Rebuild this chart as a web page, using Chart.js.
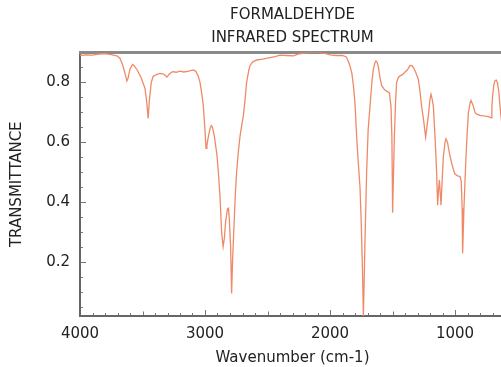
<!DOCTYPE html>
<html><head><meta charset="utf-8">
<script src="https://cdn.jsdelivr.net/npm/chart.js@4"></script>
<style>html,body{margin:0;padding:0;background:#fff;overflow:hidden;}
#wrap{width:505px;height:367px;position:relative;}
</style></head><body><div id="wrap"><canvas id="c" width="505" height="367"></canvas></div>
<script>
const chartTitle = ['FORMALDEHYDE', 'INFRARED SPECTRUM'];
const xTitle = 'Wavenumber (cm-1)';
const yTitle = 'TRANSMITTANCE';
const xTickLabels = [4000, 3000, 2000, 1000];
const yTickLabels = [0.2, 0.4, 0.6, 0.8];

const wavenumbers = [
 4000,3950,3900,3850,3800,3750,3700,3680,3660,3640,3625,3615,3600,3580,3565,3540,3510,3480,3465,3455,3445,3430,3415,3390,3360,3330,3305,3285,3260,3230,3200,3170,3130,3095,3075,3055,3040,3025,3013,3000,2992,2985,2975,2960,2950,2940,2925,2905,2893,2880,2867,2855,2845,2835,2820,2812,2805,2795,2787,2780,2770,2757,2747,2733,2720,2705,2693,2680,2667,2650,2640,2620,2587,2540,2480,2440,2400,2350,2293,2250,2187,2130,2080,2040,2000,1950,1900,1870,1853,1840,1825,1813,1800,1787,1775,1760,1750,1740,1733,1726,1720,1707,1695,1680,1665,1653,1640,1632,1622,1613,1600,1587,1565,1547,1525,1512,1505,1499,1493,1485,1475,1467,1455,1440,1420,1400,1380,1360,1345,1333,1315,1293,1280,1267,1250,1235,1225,1213,1200,1192,1183,1173,1160,1147,1139,1132,1125,1118,1112,1103,1093,1080,1072,1060,1045,1027,1010,1000,980,960,950,943,939,934,928,920,912,900,893,880,872,860,853,840,827,800,770,747,725,712,705,699,690,680,670,661,650,640,625,610
];
const transmittance = [
 0.890,0.892,0.891,0.895,0.896,0.893,0.888,0.880,0.860,0.830,0.805,0.815,0.845,0.860,0.855,0.840,0.815,0.780,0.730,0.680,0.740,0.800,0.820,0.826,0.830,0.828,0.818,0.828,0.836,0.834,0.838,0.835,0.838,0.842,0.838,0.822,0.800,0.760,0.720,0.640,0.580,0.590,0.615,0.645,0.656,0.650,0.620,0.560,0.500,0.420,0.300,0.252,0.280,0.335,0.378,0.380,0.340,0.250,0.095,0.200,0.300,0.430,0.500,0.570,0.620,0.660,0.690,0.740,0.800,0.840,0.856,0.868,0.875,0.878,0.883,0.886,0.891,0.890,0.889,0.895,0.900,0.901,0.900,0.897,0.892,0.890,0.890,0.885,0.870,0.855,0.830,0.790,0.730,0.620,0.540,0.450,0.330,0.170,0.020,0.150,0.274,0.500,0.640,0.720,0.800,0.845,0.866,0.872,0.866,0.852,0.815,0.790,0.776,0.771,0.765,0.720,0.620,0.365,0.480,0.620,0.740,0.800,0.815,0.822,0.826,0.835,0.842,0.857,0.856,0.850,0.835,0.810,0.770,0.720,0.670,0.617,0.650,0.690,0.745,0.760,0.745,0.720,0.620,0.500,0.390,0.440,0.475,0.430,0.390,0.470,0.553,0.600,0.612,0.600,0.565,0.531,0.505,0.494,0.488,0.486,0.470,0.380,0.230,0.300,0.386,0.470,0.553,0.650,0.698,0.730,0.740,0.728,0.720,0.700,0.694,0.690,0.688,0.687,0.685,0.682,0.720,0.754,0.790,0.806,0.808,0.800,0.770,0.720,0.660,0.600
];

const FONT = 'DejaVu Sans';
const TXT = '#222';

const framePlugin = {
  id: 'frame',
  beforeDatasetsDraw(chart) {
    const {ctx, chartArea: a, scales: {x, y}} = chart;
    ctx.save();
    ctx.strokeStyle = '#777';
    ctx.lineWidth = 1;
    for (let i = 1; i <= 17; i++) {
      const v = i * 0.05;
      const py = Math.round(y.getPixelForValue(v)) + 0.5;
      const major = (i % 4 === 0);
      const len = major ? 6 : 3;
      ctx.beginPath(); ctx.moveTo(a.left, py); ctx.lineTo(a.left + len, py); ctx.stroke();
    }
    for (let v = 700; v <= 4000; v += 100) {
      const px = Math.round(x.getPixelForValue(v)) + 0.5;
      const len = (v % 1000 === 0) ? 6 : (v % 500 === 0 ? 4.5 : 3);
      ctx.beginPath(); ctx.moveTo(px, a.bottom); ctx.lineTo(px, a.bottom - len); ctx.stroke();
    }
    ctx.strokeStyle = '#666';
    ctx.lineWidth = 2;
    ctx.beginPath(); ctx.moveTo(a.left, a.top); ctx.lineTo(a.left, a.bottom); ctx.lineTo(a.right, a.bottom); ctx.stroke();
    ctx.strokeStyle = '#8a8a8a';
    ctx.lineWidth = 3;
    ctx.beginPath(); ctx.moveTo(a.left - 1, a.top); ctx.lineTo(a.right, a.top); ctx.stroke();
    ctx.restore();
  }
};

new Chart(document.getElementById('c'), {
  type: 'line',
  data: {
    datasets: [{
      data: wavenumbers.map((w, i) => ({x: w, y: transmittance[i]})),
      borderColor: '#ef8a68',
      borderWidth: 1.3,
      pointRadius: 0,
      tension: 0,
      fill: false
    }]
  },
  options: {
    responsive: false,
    devicePixelRatio: 1,
    animation: false,
    layout: {padding: 0},
    plugins: {
      legend: {display: false},
      tooltip: {enabled: false},
      title: {
        display: true,
        fullSize: false,
        text: chartTitle,
        color: TXT,
        font: {family: FONT, size: 15, weight: 'normal', lineHeight: '23px'},
        padding: {top: 4, bottom: 2.5}
      }
    },
    scales: {
      x: {
        type: 'linear',
        reverse: true,
        min: 600, max: 4000,
        afterBuildTicks: s => { s.ticks = xTickLabels.map(v => ({value: v})); },
        afterFit: s => { s.height = 51; },
        grid: {display: false, drawTicks: false},
        border: {display: false},
        ticks: {color: TXT, font: {family: FONT, size: 15}, padding: 9, maxRotation: 0, autoSkip: false,
                callback: v => String(v)},
        title: {display: true, text: xTitle, color: TXT, font: {family: FONT, size: 15}, padding: {top: 0, bottom: 0}}
      },
      y: {
        type: 'linear',
        min: 0.02, max: 0.9,
        afterBuildTicks: s => { s.ticks = yTickLabels.map(v => ({value: v})); },
        afterFit: s => { s.width = 80; },
        grid: {display: false, drawTicks: false},
        border: {display: false},
        ticks: {color: TXT, font: {family: FONT, size: 15}, padding: 10, autoSkip: false,
                callback: v => v.toFixed(1)},
        title: {display: true, text: yTitle, color: TXT, font: {family: FONT, size: 15}, padding: {top: 8.5, bottom: 0}}
      }
    }
  },
  plugins: [framePlugin]
});
</script></body></html>
